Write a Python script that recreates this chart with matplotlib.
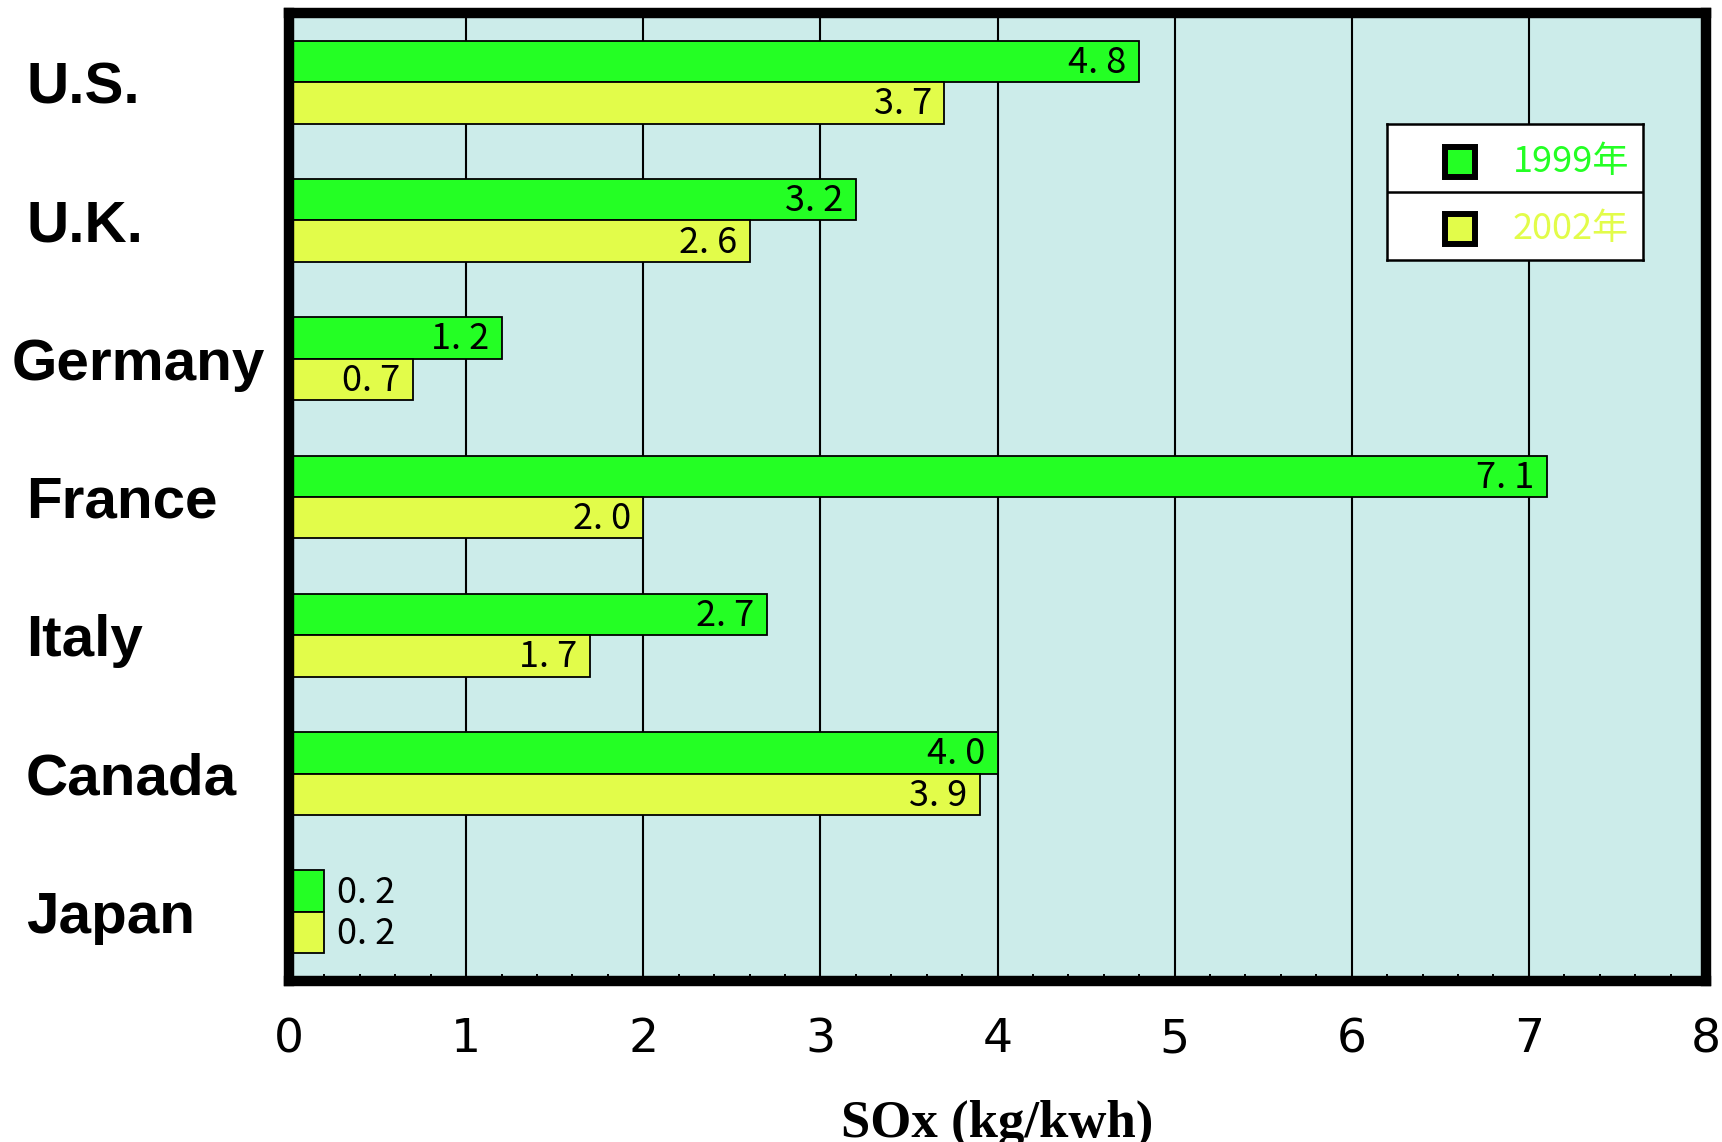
import matplotlib
matplotlib.use("Agg")
import matplotlib.pyplot as plt
import matplotlib.transforms as mtransforms
from matplotlib.ticker import MultipleLocator

# -----------------------------
# Data
# -----------------------------
countries = ["U.S.", "U.K.", "Germany", "France", "Italy", "Canada", "Japan"]
sox_1999 = [4.8, 3.2, 1.2, 7.1, 2.7, 4.0, 0.2]
sox_2002 = [3.7, 2.6, 0.7, 2.0, 1.7, 3.9, 0.2]
series_labels = ["1999年", "2002年"]
x_ticks = [0, 1, 2, 3, 4, 5, 6, 7, 8]
x_label = "SOx (kg/kwh)"

# -----------------------------
# Style
# -----------------------------
green = "#24FF24"
yellow = "#E2FC4A"
bg = "#CCECEA"
narrow = ["Noto Sans CJK JP", "DejaVu Sans"]

W, H = 1722, 1142
fig = plt.figure(figsize=(W / 100, H / 100), dpi=100)
ax = fig.add_axes([289 / W, 1 - 981 / H, (1706 - 289) / W, (981 - 13) / H])
ax.set_facecolor(bg)

# -----------------------------
# Bars
# -----------------------------
bar_h = 0.3
pos = list(range(len(countries)))
ax.barh([p - bar_h / 2 for p in pos], sox_1999, height=bar_h, color=green,
        edgecolor="black", linewidth=1.3, zorder=3)
ax.barh([p + bar_h / 2 for p in pos], sox_2002, height=bar_h, color=yellow,
        edgecolor="black", linewidth=1.3, zorder=3)

# value labels
def put_label(value, y):
    txt = f"{value:.1f}".replace(".", ". ")
    if value < 0.5:
        ax.annotate(txt, (value, y), xytext=(9, -1), textcoords="offset points",
                    ha="left", va="center", fontsize=26, family=narrow, zorder=5)
    else:
        ax.annotate(txt, (value, y), xytext=(-9, -1), textcoords="offset points",
                    ha="right", va="center", fontsize=26, family=narrow, zorder=5)

for p, v1, v2 in zip(pos, sox_1999, sox_2002):
    put_label(v1, p - bar_h / 2)
    put_label(v2, p + bar_h / 2)

# -----------------------------
# Axes
# -----------------------------
ax.set_xlim(0, 8)
ax.set_ylim(len(countries) - 0.5, -0.5)
ax.set_xticks(x_ticks)
ax.set_xticklabels([str(t) for t in x_ticks], family="DejaVu Sans", fontsize=34)
ax.xaxis.set_minor_locator(MultipleLocator(0.2))
ax.tick_params(axis="x", which="major", length=0, pad=26)
ax.tick_params(axis="x", which="minor", direction="in", length=5, width=1.4,
               bottom=True, top=False)
ax.set_yticks([])
ax.grid(axis="x", which="major", color="black", linewidth=1.5, zorder=1)
ax.set_axisbelow(True)
for s in ax.spines.values():
    s.set_linewidth(7.5)
    s.set_color("black")
    s.set_zorder(6)

# category names, baseline a bit below the group centre
trans = mtransforms.blended_transform_factory(fig.transFigure, ax.transData)
trans = mtransforms.offset_copy(trans, fig=fig, y=-21, units="dots")
for p, name in zip(pos, countries):
    x0 = 12 / W if name == "Germany" else 26 / W
    fig.text(x0, p, name, transform=trans, ha="left", va="baseline",
             fontsize=42, fontweight="bold", family="Liberation Sans")

fig.text(997 / W, 1 - 1137 / H, x_label, ha="center", va="baseline",
         fontsize=38, fontweight="bold", family="Liberation Serif")

# -----------------------------
# Legend box
# -----------------------------
lg = fig.add_axes([1387 / W, 1 - 260 / H, 256 / W, 136 / H])
lg.set_facecolor("white")
lg.set_xlim(0, 1)
lg.set_ylim(0, 1)
lg.set_xticks([])
lg.set_yticks([])
for s in lg.spines.values():
    s.set_linewidth(1.8)
lg.axhline(0.5, color="black", linewidth=1.8)
for yy, col, lab in [(0.72, green, series_labels[0]), (0.23, yellow, series_labels[1])]:
    lg.plot([0.285], [yy], marker="s", markersize=21.5, markerfacecolor=col,
            markeredgecolor="black", markeredgewidth=4.3)
    lg.text(0.49, yy, lab, color=col, fontsize=26, family=narrow,
            ha="left", va="center")

fig.savefig("out.png", dpi=100)
